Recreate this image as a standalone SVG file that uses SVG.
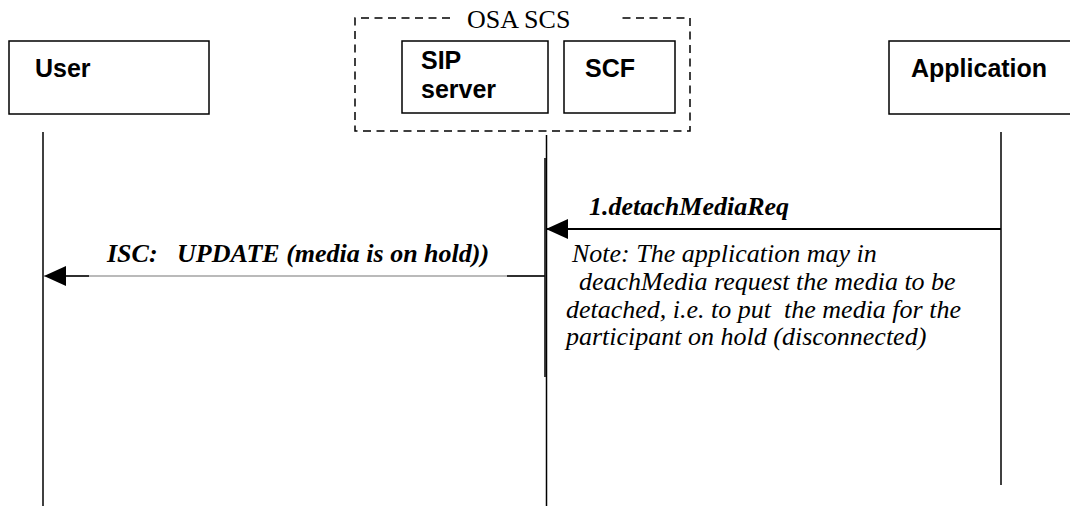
<svg xmlns="http://www.w3.org/2000/svg" width="1070" height="506" viewBox="0 0 1070 506">
<style>
.box{fill:#fff;stroke:#000;stroke-width:1.5}
.lbl{font-family:"Liberation Sans",Arial,sans-serif;font-weight:bold;font-size:25px;fill:#000}
.serif{font-family:"Liberation Serif","Times New Roman",serif;font-size:26px;fill:#000}
.msg{font-family:"Liberation Serif","Times New Roman",serif;font-size:26px;font-weight:bold;font-style:italic;fill:#000}
.note{font-family:"Liberation Serif","Times New Roman",serif;font-size:26px;font-style:italic;fill:#000}
.life{stroke:#000;stroke-width:1.5;fill:none}
.dash{stroke:#000;stroke-width:1.5;stroke-dasharray:8 5.5;fill:none}
</style>
<defs>
<marker id="ah" markerUnits="userSpaceOnUse" markerWidth="22" markerHeight="20" refX="22" refY="10" orient="auto">
<path d="M0,0 L22,10 L0,20 z" fill="#000"/>
</marker>
</defs>
<rect width="1070" height="506" fill="#fff"/>
<g id="osa-scs">
<path class="dash" d="M450,18 L355,18 L355,131 L690,131 L690,18 L617,18"/>
<text class="serif" x="467" y="28">OSA SCS</text>
</g>
<g id="user">
<rect class="box" x="9" y="41" width="200" height="73"/>
<text class="lbl" x="35" y="77">User</text>
</g>
<g id="sip-server">
<rect class="box" x="402" y="41" width="146" height="72"/>
<text class="lbl" x="421" y="69" font-size="23">SIP</text>
<text class="lbl" x="421" y="98" font-size="23">server</text>
</g>
<g id="scf">
<rect class="box" x="564" y="41" width="111" height="72"/>
<text class="lbl" x="585" y="77">SCF</text>
</g>
<g id="application">
<rect class="box" x="889" y="41" width="200" height="73"/>
<text class="lbl" x="911" y="77">Application</text>
</g>
<g id="connectors">
<line class="life" x1="43" y1="132" x2="43" y2="506"/>
<line class="life" x1="546.5" y1="135" x2="546.5" y2="506"/>
<line class="life" x1="545" y1="158" x2="545" y2="377"/>
<line class="life" x1="1001" y1="132" x2="1001" y2="485"/>
<line x1="1001" y1="229" x2="546" y2="229" stroke="#000" stroke-width="2" marker-end="url(#ah)"/>
<line x1="545" y1="276" x2="44" y2="276" stroke="#777" stroke-width="1.2" marker-end="url(#ah)"/>
<line x1="507" y1="276" x2="545" y2="276" stroke="#000" stroke-width="1.5"/>
<line x1="60" y1="276" x2="89" y2="276" stroke="#000" stroke-width="1.5"/>
<text class="msg" x="589" y="215">1.detachMediaReq</text>
<text class="msg" x="107" y="262" xml:space="preserve">ISC:   UPDATE (media is on hold))</text>
</g>
<g id="note">
<text class="note" x="572" y="262">Note: The application may in</text>
<text class="note" x="579" y="290">deachMedia request the media to be</text>
<text class="note" x="566" y="318" xml:space="preserve">detached, i.e. to put  the media for the</text>
<text class="note" x="566" y="345">participant on hold (disconnected)</text>
</g>
</svg>
